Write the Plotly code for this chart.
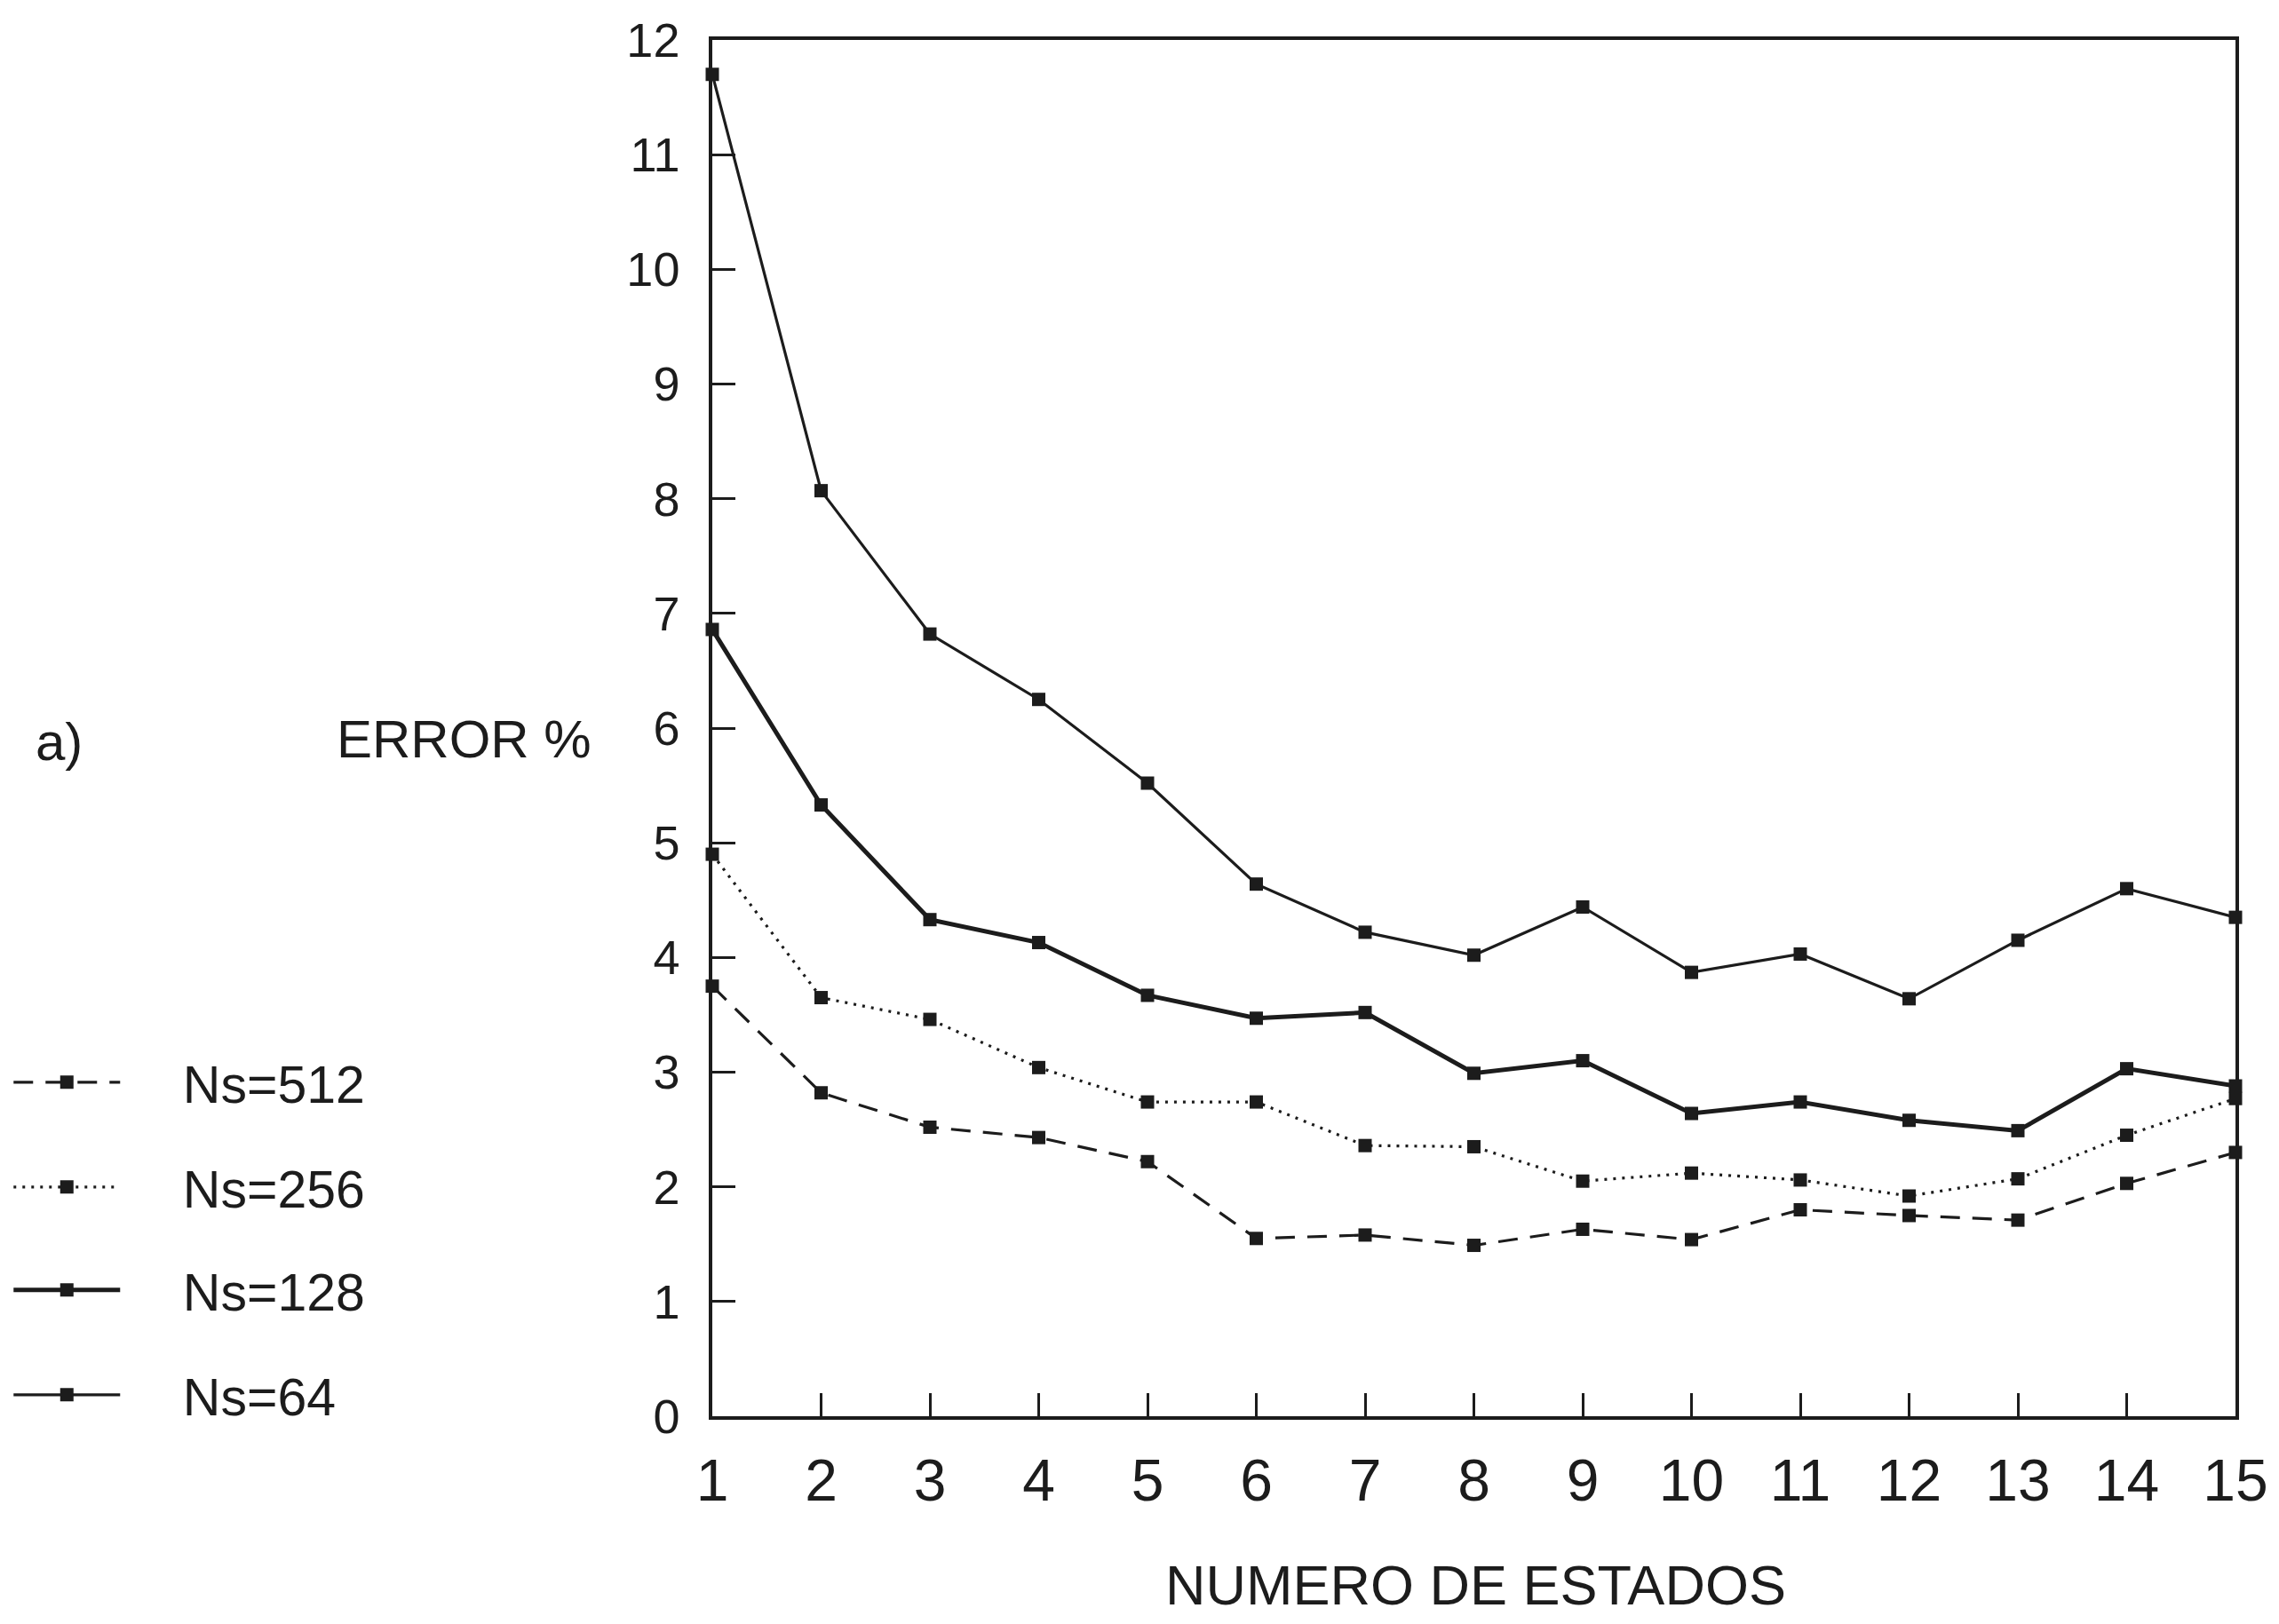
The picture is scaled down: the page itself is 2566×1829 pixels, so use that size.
import plotly.graph_objects as go

# Number of states on the x axis
estados = list(range(1, 16))

# Percentage error for each sample size Ns
err_ns512 = [3.75, 2.82, 2.52, 2.43, 2.22, 1.55, 1.58, 1.49, 1.63, 1.54, 1.80, 1.75, 1.71, 2.03, 2.30]
err_ns256 = [4.90, 3.65, 3.46, 3.04, 2.74, 2.74, 2.36, 2.35, 2.05, 2.12, 2.06, 1.92, 2.07, 2.45, 2.77]
err_ns128 = [6.86, 5.33, 4.33, 4.13, 3.67, 3.47, 3.52, 2.99, 3.10, 2.64, 2.74, 2.58, 2.49, 3.03, 2.88]
err_ns64 = [11.70, 8.07, 6.82, 6.25, 5.52, 4.64, 4.22, 4.02, 4.44, 3.87, 4.03, 3.64, 4.15, 4.60, 4.35]

series_names = ["Ns=512", "Ns=256", "Ns=128", "Ns=64"]
y_ticks = list(range(0, 13))

W, H = 2566, 1829
ML, MR, MT, MB = 802, 44, 45, 234
PW, PH = W - ML - MR, H - MT - MB
INK = "#1c1c1c"
FONT = "Liberation Sans, Arial, Helvetica, sans-serif"

styles = [
    dict(dash="22px,14px", width=3.2),
    dict(dash="3px,7px", width=3.2),
    dict(dash="solid", width=5),
    dict(dash="solid", width=3.2),
]
# vertical centre (px) of each key entry, stacked down the left side
legend_rows = [1219, 1337, 1453, 1571]
legend_ids = ["legend", "legend2", "legend3", "legend4"]

fig = go.Figure()
for name, vals, st, lid in zip(series_names, [err_ns512, err_ns256, err_ns128, err_ns64],
                               styles, legend_ids):
    fig.add_trace(go.Scatter(
        x=estados, y=vals, name="    " + name, mode="lines+markers",
        legend=lid,
        line=dict(color=INK, width=st["width"], dash=st["dash"]),
        marker=dict(symbol="square", size=15, color=INK),
        cliponaxis=False,
    ))

axis_common = dict(
    showgrid=False, zeroline=False, showline=True, linecolor=INK, linewidth=3.5,
    mirror=True, ticks="inside", tickcolor=INK, tickwidth=3, ticklen=26,
)

fig.update_layout(
    width=W, height=H,
    paper_bgcolor="white", plot_bgcolor="white",
    margin=dict(l=ML, r=MR, t=MT, b=MB),
    font=dict(family=FONT, color=INK),
    xaxis=dict(range=[1, 15], tickvals=estados, tickfont=dict(size=66),
               ticklabelstandoff=12, **axis_common),
    yaxis=dict(range=[0, 12], tickvals=y_ticks, tickfont=dict(size=54),
               ticklabelstandoff=22, **axis_common),
    showlegend=True,
)

for lid, row in zip(legend_ids, legend_rows):
    fig.update_layout({lid: dict(
        xref="container", yref="container", x=0.004, y=1 - row / H,
        xanchor="left", yanchor="middle",
        font=dict(size=59, color=INK, family=FONT),
        itemwidth=120, bgcolor="rgba(0,0,0,0)",
    )})


def px_to_paper(px, py):
    return (px - ML) / PW, (H - MB - py) / PH


annotations = [
    dict(text="ERROR %", px=668, py=833, xanchor="right", size=60),
    dict(text="a)", px=36, py=835, xanchor="left", size=60),
    dict(text="NUMERO DE ESTADOS", px=1664, py=1785, xanchor="center", size=63),
]
for a in annotations:
    ax, ay = px_to_paper(a["px"], a["py"])
    fig.add_annotation(
        text=a["text"], xref="paper", yref="paper", x=ax, y=ay,
        xanchor=a["xanchor"], yanchor="middle", showarrow=False,
        font=dict(size=a["size"], color=INK, family=FONT),
    )

fig.write_html("out.html")
